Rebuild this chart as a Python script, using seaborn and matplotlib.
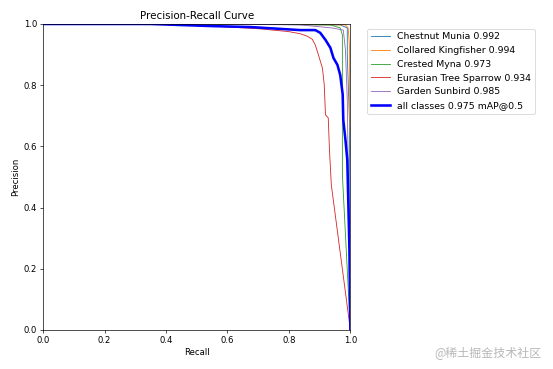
import matplotlib
matplotlib.use('Agg')
import matplotlib.pyplot as plt
import seaborn as sns
import pandas as pd

# recall / precision points, one pair of lists per class
chestnut_r = [0.0, 0.50, 0.967, 0.990, 0.990, 0.997, 1.0]
chestnut_p = [1.0, 1.0, 0.997, 0.987, 0.899, 0.686, 0.0]

kingfisher_r = [0.0, 0.50, 0.984, 0.993, 0.997, 0.997, 1.0, 1.0]
kingfisher_p = [1.0, 1.0, 0.997, 0.987, 0.930, 0.750, 0.620, 0.0]

myna_r = [0.0, 0.50, 0.935, 0.967, 0.974, 0.974, 1.0]
myna_p = [1.0, 1.0, 0.997, 0.987, 0.964, 0.507, 0.0]

sparrow_r = [0.0, 0.35, 0.554, 0.707, 0.800, 0.837, 0.860, 0.876, 0.886, 0.896, 0.909,
             0.915, 0.919, 0.928, 0.932, 0.938, 1.0]
sparrow_p = [1.0, 1.0, 0.993, 0.984, 0.975, 0.968, 0.960, 0.950, 0.931, 0.899, 0.856,
             0.801, 0.703, 0.693, 0.588, 0.474, 0.0]

sunbird_r = [0.0, 0.50, 0.837, 0.941, 0.977, 0.984, 0.990, 0.993, 1.0]
sunbird_p = [1.0, 1.0, 0.997, 0.987, 0.980, 0.915, 0.750, 0.520, 0.0]

all_r = [0.0, 0.349, 0.554, 0.674, 0.837, 0.886, 0.902, 0.919, 0.935, 0.945,
         0.958, 0.967, 0.975, 0.977, 0.984, 0.990, 0.997, 1.0]
all_p = [1.0, 1.0, 0.993, 0.990, 0.980, 0.980, 0.971, 0.948, 0.922, 0.889,
         0.866, 0.833, 0.77, 0.686, 0.621, 0.556, 0.261, 0.0]

names = ['Chestnut Munia', 'Collared Kingfisher', 'Crested Myna',
         'Eurasian Tree Sparrow', 'Garden Sunbird']
ap = [0.992, 0.994, 0.973, 0.934, 0.985]
map50 = 0.975

curves = [(chestnut_r, chestnut_p), (kingfisher_r, kingfisher_p), (myna_r, myna_p),
          (sparrow_r, sparrow_p), (sunbird_r, sunbird_p)]

fig, ax = plt.subplots(1, 1, figsize=(9, 6))
fig.subplots_adjust(left=0.078, right=0.633, bottom=0.106, top=0.935)

for i, (name, (r, p)) in enumerate(zip(names, curves)):
    df = pd.DataFrame({'recall': r, 'precision': p})
    sns.lineplot(data=df, x='recall', y='precision', ax=ax, sort=False, estimator=None,
                 linewidth=1, color=f'C{i}', label=f'{name} {ap[i]:.3f}')

df_all = pd.DataFrame({'recall': all_r, 'precision': all_p})
sns.lineplot(data=df_all, x='recall', y='precision', ax=ax, sort=False, estimator=None,
             linewidth=3, color='blue', label=f'all classes {map50:.3f} mAP@0.5')

ax.set_xlabel('Recall')
ax.set_ylabel('Precision')
ax.set_xlim(0, 1)
ax.set_ylim(0, 1)
ax.legend(bbox_to_anchor=(1.04, 1), loc='upper left', fontsize=11)
ax.set_title('Precision-Recall Curve')

fig.text(0.978, 0.045, '@稀土掘金技术社区', ha='right', va='center', fontsize=14,
         color='#b8b8b8', family=['Noto Sans CJK SC', 'DejaVu Sans'])

fig.savefig('out.png', dpi=61.5)
